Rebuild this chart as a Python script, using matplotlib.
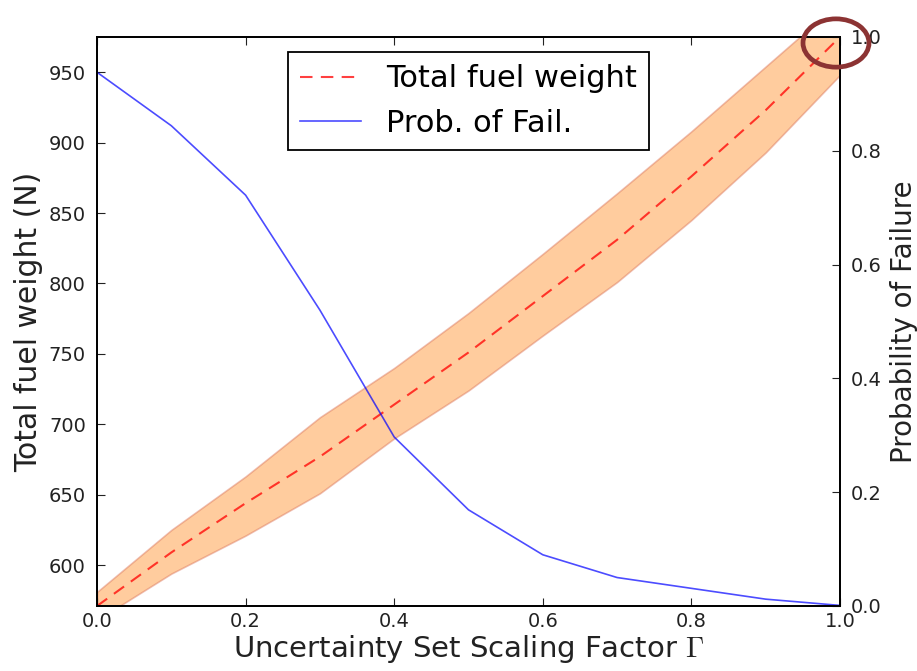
import numpy as np
import matplotlib
matplotlib.use("Agg")
import matplotlib.pyplot as plt
from matplotlib.patches import Circle

plt.rcParams['font.family'] = ['DejaVu Sans']
plt.rcParams['mathtext.fontset'] = 'cm'
plt.rcParams['xtick.direction'] = 'in'
plt.rcParams['ytick.direction'] = 'in'

# uncertainty set scaling factor
gamma = [0.0, 0.1, 0.2, 0.3, 0.4, 0.5, 0.6, 0.7, 0.8, 0.9, 1.0]

# total fuel weight (N): nominal and spread
fuel_mean = [571, 609, 644, 677, 714, 751, 791, 831, 876, 923, 975]
fuel_low = [561, 594, 621, 651, 690, 724, 763, 801, 845, 893, 948]
fuel_high = [581, 625, 663, 705, 740, 779, 821, 864, 908, 954, 1000]

# probability of failure
prob_fail = [0.938, 0.844, 0.722, 0.52, 0.297, 0.169, 0.09, 0.05, 0.031, 0.012, 0.001]

fig = plt.figure(figsize=(9.17, 6.71), dpi=100)
ax = fig.add_axes([0.1058, 0.0969, 0.8102, 0.848])
ax2 = ax.twinx()

ax.fill_between(gamma, fuel_low, fuel_high, facecolor=(1.0, 0.5, 0.055, 0.4),
                edgecolor=(0.85, 0.45, 0.35, 0.45), linewidth=1.2)
l1, = ax.plot(gamma, fuel_mean, 'r--', alpha=0.75, lw=1.5, dashes=(6, 4),
              label='Total fuel weight')
l2, = ax2.plot(gamma, prob_fail, 'b-', alpha=0.7, lw=1.2, label='Prob. of Fail.')

ax.set_xlim(0, 1)
ax.set_ylim(fuel_mean[0], fuel_mean[-1])
ax2.set_ylim(0, 1)
ax.set_xticks(np.arange(0, 1.01, 0.2))
ax.set_yticks(np.arange(600, 951, 50))
ax2.set_yticks(np.arange(0, 1.01, 0.2))
ax.xaxis.set_major_formatter(matplotlib.ticker.FormatStrFormatter('%.1f'))
ax2.yaxis.set_major_formatter(matplotlib.ticker.FormatStrFormatter('%.1f'))

ax.tick_params(axis='x', top=True, labelsize=14, length=6, pad=4, colors='#222222')
ax.tick_params(axis='y', labelsize=14, length=6, pad=8, colors='#222222')
ax2.tick_params(axis='y', labelsize=14, length=6, pad=8, colors='#222222')
for a in (ax, ax2):
    for s in a.spines.values():
        s.set_linewidth(1.3)

ax.set_xlabel(r'Uncertainty Set Scaling Factor $\Gamma$', fontsize=21, color='#222222',
              labelpad=2)
ax.set_ylabel('Total fuel weight (N)', fontsize=21.5, color='#222222')
ax2.set_ylabel('Probability of Failure', fontsize=20, color='#222222', labelpad=6)

leg = ax2.legend([l1, l2], [l1.get_label(), l2.get_label()], loc='upper center',
                 fontsize=22, fancybox=False, framealpha=1, edgecolor='black',
                 handlelength=2, handletextpad=0.8, borderpad=0.4, labelspacing=0.5)
leg.get_frame().set_linewidth(1.3)

# highlight marker at the top-right corner
fig.add_artist(Circle((836 / 917, 1 - 43 / 671), 33 / 917, transform=fig.transFigure,
                      fill=False, edgecolor='#8c3333', linewidth=3.4, clip_on=False))

fig.savefig('out.png', dpi=100, facecolor='white')
